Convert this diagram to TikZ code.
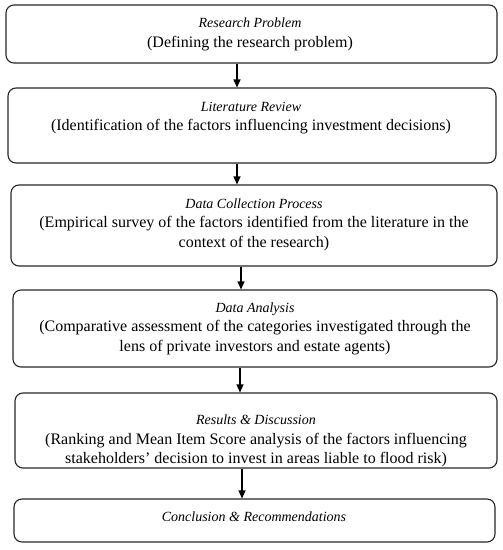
\documentclass[tikz,border=0pt]{standalone}
\usepackage{fontspec}
\setmainfont{Liberation Serif}
\usetikzlibrary{arrows.meta}
\newcommand{\ttl}[1]{{\fontsize{14}{19.5}\selectfont\itshape #1}}
\begin{document}
\begin{tikzpicture}[x=1pt,y=-1pt,
  box/.style={draw=black!85, line width=1.1pt, rounded corners=8pt, minimum width=#1, inner sep=0pt},
  txt/.style={align=center, font=\fontsize{16}{19.5}\selectfont, inner sep=0pt},
  flow/.style={-{Triangle[length=8pt,width=7pt]}, line width=1.2pt}]
\useasboundingbox (0,0) rectangle (503,550);
\node[box=491pt, minimum height=58pt] (b1) at (251.5,34) {};
\node[box=488pt, minimum height=75pt] (b2) at (252,125.5) {};
\node[box=486pt, minimum height=81pt] (b3) at (254,225.5) {};
\node[box=484pt, minimum height=77pt] (b4) at (255,328.5) {};
\node[box=482pt, minimum height=75pt] (b5) at (256,430.5) {};
\node[box=481pt, minimum height=43pt] (b6) at (254.5,520.5) {};
\node[txt] (t1) at (250,34.5) {\ttl{Research Problem}\\(Defining the research problem)};
\node[txt] (t2) at (251,118) {\ttl{Literature Review}\\(Identification of the factors influencing investment decisions)};
\node[txt] (t3) at (254,224.5) {\ttl{Data Collection Process}\\(Empirical survey of the factors identified from the literature in the\\context of the research)};
\node[txt] (t4) at (255,328.5) {\ttl{Data Analysis}\\(Comparative assessment of the categories investigated through the\\lens of private investors and estate agents)};
\node[txt] (t5) at (256,441) {\ttl{Results \& Discussion}\\(Ranking and Mean Item Score analysis of the factors influencing\\stakeholders' decision to invest in areas liable to flood risk)};
\node[txt] (t6) at (254,517) {\ttl{Conclusion \& Recommendations}};
\draw[flow] (b1.south -| 237,0) -- (b2.north -| 237,0);
\draw[flow] (b2.south -| 237,0) -- (b3.north -| 237,0);
\draw[flow] (b3.south -| 241,0) -- (b4.north -| 241,0);
\draw[flow] (b4.south -| 240,0) -- (b5.north -| 240,0);
\draw[flow] (b5.south -| 242,0) -- (b6.north -| 242,0);
\end{tikzpicture}
\end{document}
